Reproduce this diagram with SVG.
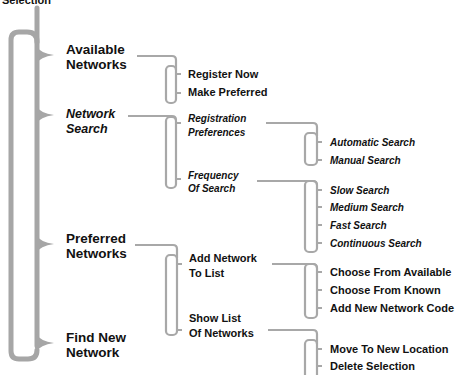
<svg xmlns="http://www.w3.org/2000/svg" width="466" height="375" viewBox="0 0 466 375">
<style>
text{font-family:"Liberation Sans",Arial,sans-serif;font-weight:bold;fill:#111}
.l1{font-size:13.5px}
.l2{font-size:11px}
.it{font-style:italic;font-size:10px}
.it1{font-style:italic;font-size:12.5px}
.spine{fill:none;stroke:#a6a6a6;stroke-width:5;stroke-linecap:round;stroke-linejoin:round}
.tip{fill:#a6a6a6}
.con{fill:none;stroke:#a8a8a8;stroke-width:2.2}
</style>
<rect width="466" height="375" fill="#fff"/>
<text x="2" y="4" class="l2" fill="#333">Selection</text>
<g id="connectors">
  <path class="spine" d="M37,8 V346"/>
  <path class="spine" d="M37,42 C37,35 33,32 27,32 H19 Q11,32 11,40 V351 Q11,359 19,359 H28 Q37,359 37,350"/>
  <path class="tip" d="M36,46 Q40,53 54,55 Q40,57 36,64 Z"/>
  <path class="tip" d="M36,106 Q40,113 54,115 Q40,117 36,124 Z"/>
  <path class="tip" d="M36,235 Q40,242 54,244 Q40,246 36,253 Z"/>
  <path class="tip" d="M36,334 Q40,341 54,343 Q40,345 36,352 Z"/>
  <path class="con" d="M137,56 H172 Q176,56 176,60 V70"/>
  <rect class="con" x="166" y="66" width="10" height="37" rx="4"/>
  <path class="con" d="M176,74 H181 M176,93 H181"/>
  <path class="con" d="M128,116 H172 Q176,116 176,120"/>
  <rect class="con" x="166" y="117" width="10" height="71" rx="4"/>
  <path class="con" d="M176,123 H181 M176,179 H181"/>
  <path class="con" d="M266,123 H313 Q317,123 317,127 V136"/>
  <rect class="con" x="305" y="133" width="12" height="32" rx="4"/>
  <path class="con" d="M317,142 H322 M317,160 H322"/>
  <path class="con" d="M257,181 H313 Q317,181 317,185"/>
  <rect class="con" x="305" y="181" width="12" height="71" rx="4"/>
  <path class="con" d="M317,190 H322 M317,207 H322 M317,225 H322 M317,243 H322"/>
  <path class="con" d="M135,245 H173 Q177,245 177,249 V258"/>
  <rect class="con" x="166" y="255" width="11" height="80" rx="4"/>
  <path class="con" d="M177,264 H182 M177,330 H182"/>
  <path class="con" d="M272,264 H313 Q317,264 317,268"/>
  <rect class="con" x="305" y="264" width="12" height="54" rx="4"/>
  <path class="con" d="M317,272 H322 M317,290 H322 M317,308 H322"/>
  <path class="con" d="M268,330 H313 Q317,330 317,334 V344"/>
  <rect class="con" x="305" y="340" width="12" height="45" rx="4"/>
  <path class="con" d="M317,349 H322 M317,366 H322"/>
</g>
<g id="available"><text class="l1" x="66" y="54">Available</text><text class="l1" x="66" y="69">Networks</text></g>
<g id="network-search"><text class="it1" x="66" y="118">Network</text><text class="it1" x="66" y="133">Search</text></g>
<g id="preferred"><text class="l1" x="66" y="243">Preferred</text><text class="l1" x="66" y="258">Networks</text></g>
<g id="find-new"><text class="l1" x="66" y="342">Find New</text><text class="l1" x="66" y="357">Network</text></g>
<g id="register-now"><text class="l2" x="188" y="78">Register Now</text></g>
<g id="make-preferred"><text class="l2" x="188" y="96">Make Preferred</text></g>
<g id="registration"><text class="it" x="188" y="122">Registration</text><text class="it" x="188" y="136">Preferences</text></g>
<g id="frequency"><text class="it" x="188" y="179">Frequency</text><text class="it" x="188" y="192">Of Search</text></g>
<g id="automatic"><text class="it" x="330" y="145.5">Automatic Search</text></g>
<g id="manual"><text class="it" x="330" y="163.5">Manual Search</text></g>
<g id="slow"><text class="it" x="330" y="193.5">Slow Search</text></g>
<g id="medium"><text class="it" x="330" y="210.5">Medium Search</text></g>
<g id="fast"><text class="it" x="330" y="228.5">Fast Search</text></g>
<g id="continuous"><text class="it" x="330" y="246.5">Continuous Search</text></g>
<g id="add-network"><text class="l2" x="189" y="262">Add Network</text><text class="l2" x="189" y="277">To List</text></g>
<g id="show-list"><text class="l2" x="189" y="322">Show List</text><text class="l2" x="189" y="337">Of Networks</text></g>
<g id="choose-available"><text class="l2" x="330" y="275.5">Choose From Available</text></g>
<g id="choose-known"><text class="l2" x="330" y="293.5">Choose From Known</text></g>
<g id="add-code"><text class="l2" x="330" y="311.5">Add New Network Code</text></g>
<g id="move"><text class="l2" x="330" y="352.5">Move To New Location</text></g>
<g id="delete"><text class="l2" x="330" y="369.5">Delete Selection</text></g>
</svg>
